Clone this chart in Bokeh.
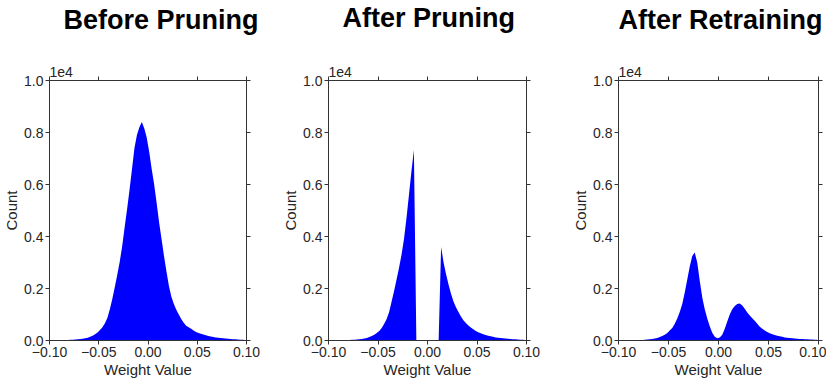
import numpy as np
from bokeh.plotting import figure
from bokeh.layouts import row
from bokeh.models import Range1d, FixedTicker, CustomJSTickFormatter, LinearAxis, Title
from bokeh.embed import file_html
from bokeh.resources import INLINE

# ---- data (counts in units of 1e4), 80 bins of width 0.0025 from -0.1 to 0.1 ----
bin_width = 0.0025
bin_center = np.round(np.linspace(-0.1 + bin_width / 2, 0.1 - bin_width / 2, 80), 6)

before_pruning = [
    0.000, 0.001, 0.001, 0.001, 0.001, 0.002, 0.002, 0.002, 0.003, 0.003,
    0.004, 0.005, 0.006, 0.007, 0.009, 0.011, 0.014, 0.018, 0.024, 0.031,
    0.040, 0.051, 0.066, 0.087, 0.120, 0.160, 0.205, 0.252, 0.302, 0.362,
    0.435, 0.505, 0.580, 0.660, 0.740, 0.790, 0.820, 0.840, 0.815, 0.780,
    0.725, 0.660, 0.600, 0.530, 0.455, 0.390, 0.325, 0.265, 0.210, 0.168,
    0.140, 0.118, 0.100, 0.083, 0.068, 0.057, 0.051, 0.045, 0.038, 0.033,
    0.029, 0.026, 0.023, 0.020, 0.017, 0.015, 0.013, 0.012, 0.011, 0.010,
    0.009, 0.008, 0.007, 0.006, 0.005, 0.005, 0.004, 0.003, 0.003, 0.002,
]

after_pruning = [
    0.000, 0.001, 0.001, 0.001, 0.001, 0.001, 0.002, 0.002, 0.002, 0.003,
    0.003, 0.004, 0.005, 0.006, 0.008, 0.010, 0.013, 0.017, 0.022, 0.029,
    0.037, 0.048, 0.064, 0.083, 0.110, 0.150, 0.190, 0.235, 0.280, 0.330,
    0.390, 0.470, 0.560, 0.650, 0.733, 0.000, 0.000, 0.000, 0.000, 0.000,
    0.000, 0.000, 0.000, 0.000, 0.000, 0.360, 0.300, 0.255, 0.215, 0.180,
    0.150, 0.128, 0.110, 0.092, 0.078, 0.067, 0.058, 0.050, 0.043, 0.037,
    0.032, 0.028, 0.024, 0.021, 0.018, 0.016, 0.014, 0.012, 0.011, 0.010,
    0.009, 0.008, 0.007, 0.006, 0.005, 0.005, 0.004, 0.003, 0.003, 0.002,
]

after_retraining = [
    0.000, 0.000, 0.001, 0.001, 0.001, 0.001, 0.001, 0.002, 0.002, 0.002,
    0.003, 0.004, 0.005, 0.006, 0.008, 0.010, 0.013, 0.017, 0.022, 0.029,
    0.038, 0.048, 0.064, 0.085, 0.110, 0.140, 0.185, 0.235, 0.285, 0.325,
    0.338, 0.300, 0.230, 0.165, 0.120, 0.085, 0.055, 0.030, 0.014, 0.009,
    0.012, 0.022, 0.045, 0.073, 0.100, 0.120, 0.133, 0.140, 0.142, 0.135,
    0.122, 0.108, 0.096, 0.086, 0.076, 0.064, 0.053, 0.045, 0.038, 0.033,
    0.028, 0.024, 0.021, 0.018, 0.016, 0.014, 0.012, 0.011, 0.010, 0.009,
    0.008, 0.007, 0.006, 0.006, 0.005, 0.005, 0.004, 0.004, 0.003, 0.003,
]

titles = ["Before Pruning", "After Pruning", "After Retraining"]
series = [before_pruning, after_pruning, after_retraining]
x_ticks = [-0.10, -0.05, 0.00, 0.05, 0.10]
y_ticks = [0.0, 0.2, 0.4, 0.6, 0.8, 1.0]
offset_label = "1e4"

FONT = "'Liberation Sans', Arial, sans-serif"
TXT = "#262626"
LINE = "#333333"

# per-panel layout: (frame_w, frame_h, border_left, border_right, title_offset, spacer)
panels = [
    (197, 260, 45, 33, 14, 30),
    (198, 260, 48, 43, 14, 32),
    (200, 260, 46, 8, 0, 30),
]

xfmt = CustomJSTickFormatter(code="return tick.toFixed(2).replace('-', '\u2212');")
yfmt = CustomJSTickFormatter(code="return tick.toFixed(1);")
blank = CustomJSTickFormatter(code="return '';")

figs = []
for title, vals, (fw, fh, bl, br, toff, gap) in zip(titles, series, panels):
    p = figure(frame_width=fw, frame_height=fh, output_backend="svg", toolbar_location=None,
               x_range=Range1d(-0.1, 0.1), y_range=Range1d(0, 1.0),
               min_border_left=bl, min_border_right=br, min_border_top=0,
               min_border_bottom=0)
    p.title.text = title
    p.title.text_font = FONT
    p.title.text_font_size = "27px"
    p.title.text_font_style = "bold"
    p.title.text_color = "black"
    p.title.align = "left"
    p.title.offset = toff
    p.title.standoff = 0
    p.grid.visible = False
    p.outline_line_color = LINE

    p.varea(x=bin_center, y1=0, y2=vals, fill_color="#0000ff")

    for ax in (p.xaxis[0], p.yaxis[0]):
        ax.major_label_text_font = FONT
        ax.major_label_text_font_size = "14px"
        ax.major_label_text_color = TXT
        ax.axis_label_text_font = FONT
        ax.axis_label_text_font_size = "15px"
        ax.axis_label_text_font_style = "normal"
        ax.axis_label_text_color = TXT
        ax.axis_line_color = LINE
        ax.major_tick_line_color = LINE
        ax.major_tick_out = 4
        ax.major_tick_in = 0
        ax.minor_tick_line_color = None
        ax.major_label_standoff = 2
        ax.axis_label_standoff = 1
    p.xaxis[0].ticker = FixedTicker(ticks=x_ticks)
    p.xaxis[0].formatter = xfmt
    p.xaxis[0].axis_label = "Weight Value"
    p.yaxis[0].ticker = FixedTicker(ticks=y_ticks)
    p.yaxis[0].formatter = yfmt
    p.yaxis[0].axis_label = "Count"

    # frame box ticks on top and right
    top_ax = LinearAxis(ticker=FixedTicker(ticks=x_ticks), formatter=blank,
                        major_label_text_font_size="0px", major_label_standoff=0,
                        axis_line_color=LINE, major_tick_line_color=LINE,
                        major_tick_out=4, major_tick_in=0, minor_tick_line_color=None)
    right_ax = LinearAxis(ticker=FixedTicker(ticks=y_ticks), formatter=blank,
                          major_label_text_font_size="0px", major_label_standoff=0,
                          axis_line_color=LINE, major_tick_line_color=LINE,
                          major_tick_out=4, major_tick_in=0, minor_tick_line_color=None)
    p.add_layout(top_ax, "above")
    p.add_layout(right_ax, "right")

    # scale factor text, just above the frame
    p.add_layout(Title(text=offset_label, align="left", offset=0, standoff=0,
                       text_font=FONT, text_font_size="14px", text_font_style="normal",
                       text_color=TXT), "above")
    # invisible spacer between scale text and the panel title
    spacer = LinearAxis(ticker=FixedTicker(ticks=x_ticks), formatter=blank,
                        major_label_text_font_size="0px", major_label_standoff=0,
                        axis_line_color=None, major_tick_line_color=None,
                        major_tick_out=gap, major_tick_in=0, minor_tick_line_color=None)
    p.add_layout(spacer, "above")
    figs.append(p)

layout_row = row(*figs, spacing=0)
open("out.html", "w").write(file_html(layout_row, INLINE))
